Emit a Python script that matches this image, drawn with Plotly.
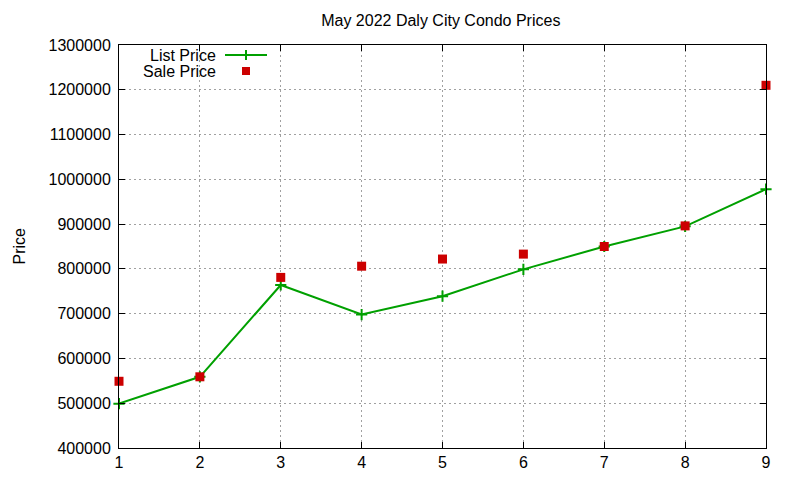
import plotly.graph_objects as go

# data
listing = [1, 2, 3, 4, 5, 6, 7, 8, 9]
list_price = [499000, 559000, 764000, 698000, 739000, 799000, 850000, 895000, 978000]
sale_price = [549000, 559000, 781000, 806000, 822000, 833000, 850000, 896000, 1210000]

GREEN = "#00a000"
RED = "#cc0000"
FONT = "Liberation Sans, Arial, sans-serif"

fig = go.Figure()

fig.add_trace(go.Scatter(
    x=listing, y=list_price, mode="lines+markers", name="List Price",
    line=dict(color=GREEN, width=2),
    marker=dict(symbol="cross-thin", size=8, line=dict(color=GREEN, width=2)),
    cliponaxis=False,
))
fig.add_trace(go.Scatter(
    x=listing, y=sale_price, mode="markers", name="Sale Price",
    marker=dict(symbol="square", size=9, color=RED),
    cliponaxis=False,
))

# gnuplot style key: text on the left, sample on the right
def px(x):
    return (x - 119) / 647

def py(y):
    return (448 - y) / 403

shapes = [
    dict(type="line", xref="paper", yref="paper", x0=px(225), x1=px(267), y0=py(55), y1=py(55),
         line=dict(color=GREEN, width=2)),
    dict(type="line", xref="paper", yref="paper", x0=px(246), x1=px(246), y0=py(50), y1=py(60),
         line=dict(color=GREEN, width=2)),
    dict(type="rect", xref="paper", yref="paper", x0=px(242), x1=px(250), y0=py(67), y1=py(75),
         fillcolor=RED, line=dict(width=0)),
]
annotations = [
    dict(text="List Price", xref="paper", yref="paper", x=px(218), y=py(55), xanchor="right",
         yanchor="middle", showarrow=False, font=dict(size=16, color="black", family=FONT)),
    dict(text="Sale Price", xref="paper", yref="paper", x=px(218), y=py(71), xanchor="right",
         yanchor="middle", showarrow=False, font=dict(size=16, color="black", family=FONT)),
    dict(text="Price", xref="paper", yref="paper", x=px(19), y=0.5, textangle=-90,
         xanchor="center", yanchor="middle", showarrow=False,
         font=dict(size=16, color="black", family=FONT)),
]

axis_style = dict(
    showline=True, linecolor="black", linewidth=1, mirror="ticks",
    ticks="inside", ticklen=6, tickcolor="black",
    showgrid=True, gridcolor="#a0a0a0", griddash="2px,3px", gridwidth=1,
    zeroline=False, tickfont=dict(size=16, color="black", family=FONT),
)

# the page body adds an 8px offset, so margins are trimmed to land the plot box
fig.update_layout(
    width=800, height=480,
    margin=dict(l=111, r=42, t=37, b=40),
    paper_bgcolor="white", plot_bgcolor="white",
    showlegend=False,
    title=dict(text="May 2022 Daly City Condo Prices", x=0.541, xanchor="center",
               y=1 - 12 / 480, yanchor="middle",
               font=dict(size=16, color="black", family=FONT)),
    xaxis=dict(range=[1, 9], dtick=1, **axis_style),
    yaxis=dict(range=[400000, 1300000], dtick=100000, tickformat="d",
               ticklabelstandoff=4, **axis_style),
    shapes=shapes,
    annotations=annotations,
)

fig.write_html("out.html")
